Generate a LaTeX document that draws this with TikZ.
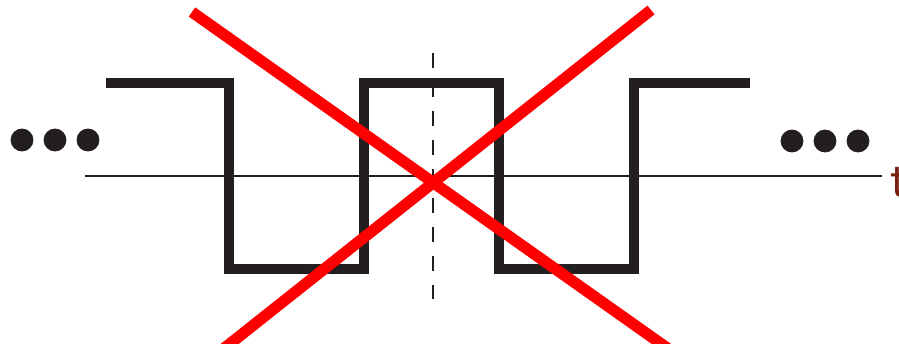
\documentclass[tikz,border=0pt]{standalone}
\usepackage{tikz}
\usetikzlibrary{positioning}

\definecolor{waveblack}{HTML}{231F20}
\definecolor{labelbrown}{HTML}{7A1E10}

\begin{document}
\begin{tikzpicture}[
    x=0.02cm, y=-0.02cm,
    % --- estilos ---
    wave/.style    = {draw=waveblack, line width=5.7pt, line join=miter},
    axisline/.style= {draw=waveblack, line width=1.6pt},
    symline/.style = {draw=waveblack, line width=1.7pt, dash pattern=on 8.5pt off 8pt},
    cross/.style   = {draw=red, line width=6.4pt},
    dot/.style     = {circle, fill=waveblack, inner sep=0pt, minimum size=13pt},
    tlabel/.style  = {text=labelbrown, font=\fontsize{30}{30}\selectfont\sffamily,
                      inner sep=0pt, anchor=base west}
]
\useasboundingbox (0,0) rectangle (899,343);

% ===================== EJE =====================
\coordinate (ax0) at (85,176);
\coordinate (ax1) at (882,176);
\draw[axisline] (ax0) -- (ax1);
\node[tlabel] (t) at (890,196) {t};

% ===================== SEÑAL =====================
\draw[wave] (106,83) -- (229,83) -- (229,269) -- (364,269) -- (364,83)
            -- (499,83) -- (499,269) -- (634,269) -- (634,83) -- (750,83);

% eje de simetría
\coordinate (s0) at (433,53);
\coordinate (s1) at (433,299);
\draw[symline] (s0) -- (s1);

% ===================== PUNTOS =====================
\foreach \x [count=\i] in {22,55,88} {
    \node[dot] (l\i) at (\x,140) {};
}
\foreach \x [count=\i] in {792,825,858} {
    \node[dot] (r\i) at (\x,141) {};
}

% ===================== CRUZ =====================
\coordinate (c1a) at (192,12);
\coordinate (c1b) at (670,350);
\coordinate (c2a) at (651,10);
\coordinate (c2b) at (222,350);
\draw[cross] (c1a) -- (c1b);
\draw[cross] (c2a) -- (c2b);

\end{tikzpicture}
\end{document}
